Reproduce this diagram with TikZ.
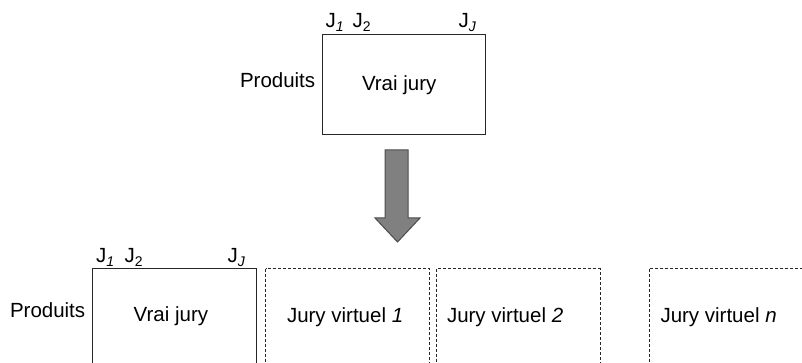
\documentclass[tikz,border=0pt]{standalone}
\usepackage{fontspec}
\setmainfont{Liberation Sans}
\newcommand{\subtxt}[1]{\raisebox{-4pt}{\fontsize{14}{14}\selectfont #1}}
\begin{document}
\begin{tikzpicture}[x=1pt,y=-1pt,
  txt/.style={inner sep=0pt, outer sep=0pt, anchor=base west, font=\fontsize{20.5}{24}\selectfont},
  solidbox/.style={draw=black!85, line width=1pt},
  dashbox/.style={draw=black!85, line width=0.9pt, dash pattern=on 3pt off 2pt},
  blockarrow/.style={fill=black!50, draw=black!70, line width=1pt}]
\clip (0,0) rectangle (802,363);
\useasboundingbox (0,0) rectangle (802,363);

% top
\draw[solidbox] (322.7,35) rectangle (485.7,134.3);
\node[txt] (p1) at (240,87.3) {Produits};
\node[txt] (v1) at (362,90.7) {Vrai jury};
\node[txt] (ja1) at (325.5,28) {J\subtxt{\itshape 1}};
\node[txt] (jb1) at (352.5,28) {J\subtxt{2}};
\node[txt] (jc1) at (458.5,28) {J\subtxt{\itshape J}};

% arrow
\draw[blockarrow] (385,150) -- (408,150) -- (408,218) -- (420,218) -- (397.5,242)
  -- (375,218) -- (385,218) -- cycle;

% bottom
\draw[solidbox] (92.7,268.7) rectangle (256.7,380);
\draw[dashbox] (265.5,268.7) rectangle (429.3,380);
\draw[dashbox] (436.7,268.7) rectangle (600,380);
\draw[dashbox] (649.3,268.7) rectangle (830,380);
\node[txt] (p2) at (10,317) {Produits};
\node[txt] (v2) at (133.7,321.7) {Vrai jury};
\node[txt] (ja2) at (96,262.5) {J\subtxt{\itshape 1}};
\node[txt] (jb2) at (124.5,262.5) {J\subtxt{2}};
\node[txt] (jc2) at (227.5,262.5) {J\subtxt{\itshape J}};
\node[txt] (jv1) at (287,322.7) {Jury virtuel \itshape 1};
\node[txt] (jv2) at (447,322.7) {Jury virtuel \itshape 2};
\node[txt] (jvn) at (660.5,322.7) {Jury virtuel \itshape n};
\end{tikzpicture}
\end{document}
